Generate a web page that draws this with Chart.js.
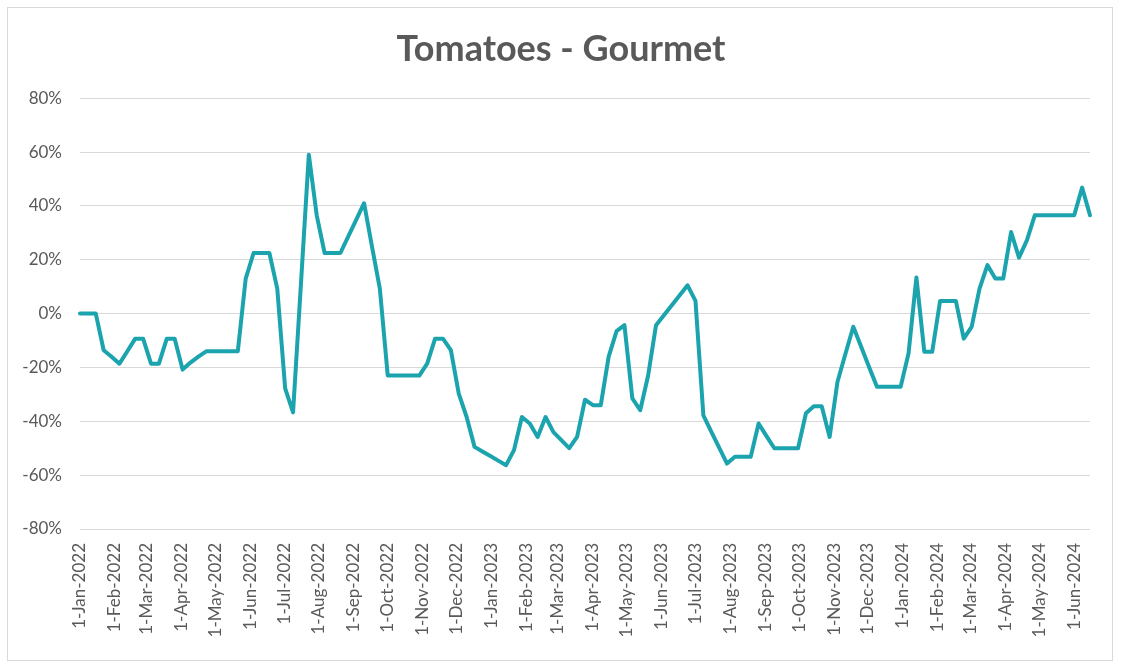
<!DOCTYPE html>
<html>
<head>
<meta charset="utf-8">
<script src="https://cdn.jsdelivr.net/npm/chart.js@4/dist/chart.umd.min.js"></script>
<style>
  html, body { margin: 0; padding: 0; background: #ffffff; }
  #wrap { position: relative; width: 1122px; height: 668px; }
  #frame { position: absolute; left: 7px; top: 7px; width: 1106px; height: 654px; border: 1px solid #d9d9d9; box-sizing: border-box; pointer-events: none; }
  canvas { position: absolute; left: 0; top: 0; }
</style>
</head>
<body>
<div id="wrap">
  <canvas id="c" width="1122" height="668"></canvas>
  <div id="frame"></div>
</div>
<script>
// ---- Data ----
const chartTitle = 'Tomatoes - Gourmet';
const firstWeek = '2022-01-01';       // first weekly observation
const stepDays = 7;                   // weekly series
// Weekly % change values
const values = [
  0, 0, 0, -13.6, -16, -18.6, -14, -9.3, -9.3, -18.6,
  -18.6, -9.3, -9.3, -20.8, -18.2, -16, -14, -14, -14, -14,
  -14, 13, 22.5, 22.5, 22.5, 9.3, -27.8, -36.7, 11, 59,
  36.5, 22.5, 22.5, 22.5, 28.7, 34.8, 41, 25, 9.3, -23,
  -23, -23, -23, -23, -18.6, -9.3, -9.3, -13.6, -29.7, -38.4,
  -49.5, -51.2, -52.9, -54.6, -56.3, -50.7, -38.4, -40.8, -45.8, -38.4,
  -44, -47, -50, -45.8, -32, -34, -34, -16, -6.5, -4.3,
  -31.5, -35.9, -23, -4.3, -0.6, 3.1, 6.8, 10.5, 4.7, -37.8,
  -43.8, -49.8, -55.7, -53.2, -53.2, -53.2, -40.8, -45.5, -50, -50,
  -50, -50, -37, -34.4, -34.4, -45.8, -25.3, -15, -4.9, -12.3,
  -19.8, -27.2, -27.2, -27.2, -27.2, -14.8, 13.4, -14.2, -14.2, 4.7,
  4.7, 4.7, -9.3, -4.9, 9.3, 18, 13, 13, 30.3, 20.8,
  27.2, 36.5, 36.5, 36.5, 36.5, 36.5, 36.5, 46.8, 36.5
];
const xTickLabels = [
  '1-Jan-2022','1-Feb-2022','1-Mar-2022','1-Apr-2022','1-May-2022','1-Jun-2022',
  '1-Jul-2022','1-Aug-2022','1-Sep-2022','1-Oct-2022','1-Nov-2022','1-Dec-2022',
  '1-Jan-2023','1-Feb-2023','1-Mar-2023','1-Apr-2023','1-May-2023','1-Jun-2023',
  '1-Jul-2023','1-Aug-2023','1-Sep-2023','1-Oct-2023','1-Nov-2023','1-Dec-2023',
  '1-Jan-2024','1-Feb-2024','1-Mar-2024','1-Apr-2024','1-May-2024','1-Jun-2024'
];
const yMin = -80, yMax = 80, yStep = 20;

// ---- Helpers ----
const MONTHS = ['Jan','Feb','Mar','Apr','May','Jun','Jul','Aug','Sep','Oct','Nov','Dec'];
const DAY = 86400000;
const t0 = Date.UTC(+firstWeek.slice(0,4), +firstWeek.slice(5,7) - 1, +firstWeek.slice(8,10));
function labelToDay(lbl) {
  const [d, m, y] = lbl.split('-');
  return Math.round((Date.UTC(+y, MONTHS.indexOf(m), +d) - t0) / DAY);
}
const tickDays = xTickLabels.map(labelToDay);
const tickMap = {};
tickDays.forEach((d, i) => { tickMap[d] = xTickLabels[i]; });
const points = values.map((v, i) => ({ x: i * stepDays, y: v }));
const lastDay = (values.length - 1) * stepDays;

const FONT = 'Lato, "Open Sans", sans-serif';
const GREY = '#595959';

new Chart(document.getElementById('c'), {
  type: 'line',
  data: {
    datasets: [{
      data: points,
      borderColor: '#1ba3ae',
      borderWidth: 4,
      pointRadius: 0,
      pointHoverRadius: 0,
      tension: 0,
      borderJoinStyle: 'round',
      borderCapStyle: 'round',
      fill: false,
      clip: 6
    }]
  },
  options: {
    responsive: false,
    animation: false,
    devicePixelRatio: 1,
    layout: { padding: 0 },
    plugins: {
      legend: { display: false },
      tooltip: { enabled: false },
      title: {
        display: true,
        text: chartTitle,
        color: GREY,
        font: { family: FONT, size: 36, weight: 'bold' },
        padding: { top: 28, bottom: 27 }
      }
    },
    scales: {
      x: {
        type: 'linear',
        min: 0,
        max: lastDay,
        afterBuildTicks: (scale) => { scale.ticks = tickDays.map(v => ({ value: v })); },
        afterFit: (scale) => { scale.height = 139; },
        grid: { display: false },
        border: { display: false },
        ticks: {
          autoSkip: false,
          minRotation: 90,
          maxRotation: 90,
          padding: 6,
          color: GREY,
          font: { family: FONT, size: 17 },
          callback: (v) => tickMap[v] || ''
        }
      },
      y: {
        min: yMin,
        max: yMax,
        afterFit: (scale) => { scale.width = 80; },
        grid: { color: '#d9d9d9', lineWidth: 1, drawTicks: false },
        border: { display: false },
        ticks: {
          stepSize: yStep,
          padding: 18,
          color: GREY,
          font: { family: FONT, size: 17 },
          callback: (v) => v + '%'
        }
      },
      yRightSpace: {
        position: 'right',
        min: yMin,
        max: yMax,
        afterFit: (scale) => { scale.width = 32; },
        grid: { display: false },
        border: { display: false },
        ticks: { display: false }
      }
    }
  }
});
</script>
</body>
</html>
